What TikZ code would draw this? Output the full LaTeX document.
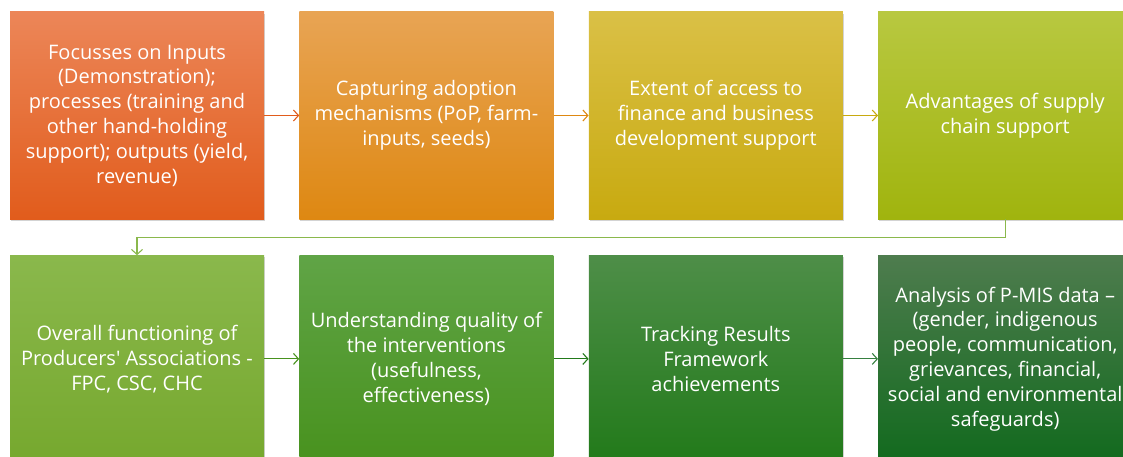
\documentclass[tikz,border=0pt]{standalone}
\usepackage{fontspec}
\setmainfont{Open Sans}
\usepackage{xcolor}
\usetikzlibrary{positioning, shadows, arrows.meta}

% stage colours, light top / dark bottom
\definecolor{c1top}{RGB}{236,134,88}
\definecolor{c1bot}{RGB}{225,92,28}
\definecolor{c2top}{RGB}{232,164,84}
\definecolor{c2bot}{RGB}{222,136,18}
\definecolor{c3top}{RGB}{218,192,70}
\definecolor{c3bot}{RGB}{200,170,16}
\definecolor{c4top}{RGB}{184,200,64}
\definecolor{c4bot}{RGB}{160,180,14}
\definecolor{c5top}{RGB}{138,184,76}
\definecolor{c5bot}{RGB}{118,168,46}
\definecolor{c6top}{RGB}{96,164,70}
\definecolor{c6bot}{RGB}{72,146,30}
\definecolor{c7top}{RGB}{78,142,72}
\definecolor{c7bot}{RGB}{34,122,26}
\definecolor{c8top}{RGB}{78,124,78}
\definecolor{c8bot}{RGB}{18,106,30}

\begin{document}
\begin{tikzpicture}[x=1pt, y=-1pt,
    stage/.style={minimum width=254pt, minimum height=207pt, inner sep=0pt,
        align=center, text=white, font=\fontsize{20}{24.8}\selectfont,
        drop shadow={shadow xshift=1pt, shadow yshift=-2pt, opacity=0.35}},
    link/.style={-{Straight Barb[length=5pt, width=11pt]}, line width=1.1pt}]
    \useasboundingbox (0,0) rectangle (1123,457);
    \clip (0,0) rectangle (1123,457);

    % First row
    \node[stage, top color=c1top, bottom color=c1bot] (inputs) at (137,115.5)
        {Focusses on Inputs\\(Demonstration);\\processes (training and\\other hand-holding\\support); outputs (yield,\\revenue)};
    \node[stage, top color=c2top, bottom color=c2bot, right=35pt of inputs] (adoption)
        {Capturing adoption\\mechanisms (PoP, farm-\\inputs, seeds)};
    \node[stage, top color=c3top, bottom color=c3bot, right=35pt of adoption] (finance)
        {Extent of access to\\finance and business\\development support};
    \node[stage, top color=c4top, bottom color=c4bot, right=35pt of finance] (supply)
        {Advantages of supply\\chain support};

    % Second row
    \node[stage, top color=c5top, bottom color=c5bot, below=36pt of inputs] (functioning)
        {Overall functioning of\\Producers\textquotesingle\ Associations -\\FPC, CSC, CHC};
    \node[stage, top color=c6top, bottom color=c6bot, right=35pt of functioning] (quality)
        {Understanding quality of\\the interventions\\(usefulness,\\effectiveness)};
    \node[stage, top color=c7top, bottom color=c7bot, right=35pt of quality] (tracking)
        {Tracking Results\\Framework\\achievements};
    \node[stage, top color=c8top, bottom color=c8bot, right=35pt of tracking] (pmis)
        {Analysis of P-MIS data --\\(gender, indigenous\\people, communication,\\grievances, financial,\\social and environmental\\safeguards)};

    % Arrows
    \draw[link, draw=c1bot] (inputs) -- (adoption);
    \draw[link, draw=c2bot] (adoption) -- (finance);
    \draw[link, draw=c3bot] (finance) -- (supply);
    \draw[link, draw=c5top] (supply.south) -- ++(0,18) -| (functioning.north);
    \draw[link, draw=c6bot] (functioning) -- (quality);
    \draw[link, draw=c7bot] (quality) -- (tracking);
    \draw[link, draw=c8bot!85!white] (tracking) -- (pmis);
\end{tikzpicture}
\end{document}
